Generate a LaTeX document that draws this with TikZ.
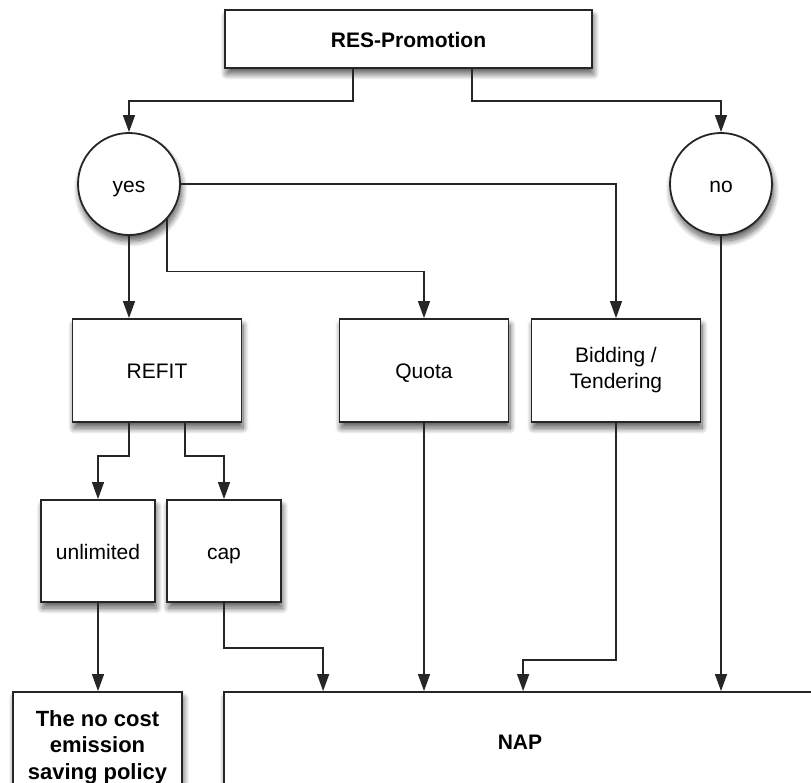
\documentclass[tikz,border=0pt]{standalone}
\usepackage{fontspec}
\setmainfont{Liberation Sans}
\usetikzlibrary{arrows.meta,shadows.blur}
\begin{document}
\begin{tikzpicture}[x=1pt,y=-1pt,
  every node/.style={font=\fontsize{21}{26}\selectfont},
  shd/.style={blur shadow={shadow blur steps=12,shadow xshift=1.5pt,shadow yshift=-6pt,shadow blur radius=6pt,shadow opacity=65}},
  box/.style={draw=black!85,line width=1.8pt,fill=white,shd,inner sep=2pt,align=center},
  one/.style={text height=17pt,text depth=0pt},
  circ/.style={draw=black!85,line width=1.8pt,fill=white,shd,circle,minimum size=102pt,inner sep=0pt,one},
  arr/.style={line width=1.3pt,draw=black!85,-{Triangle[width=12pt,length=17pt]}},
  ln/.style={line width=1.3pt,draw=black!85}]
\useasboundingbox (0,0) rectangle (811,783);
\node[box,one,minimum width=367pt,minimum height=58pt,font=\fontsize{21}{26}\selectfont\bfseries] (res) at (408.5,39) {RES-Promotion};
\node[circ] (yes) at (129,184) {yes};
\node[circ] (no) at (721,184) {no};
\node[box,one,minimum width=169pt,minimum height=103pt] (refit) at (157,370.5) {REFIT};
\node[box,one,minimum width=169pt,minimum height=103pt] (quota) at (424,370.5) {Quota};
\node[box,minimum width=169pt,minimum height=103pt] (bid) at (616,370.5) {Bidding /\\Tendering};
\node[box,one,minimum width=114pt,minimum height=102pt] (unl) at (98,551) {unlimited};
\node[box,one,minimum width=114pt,minimum height=102pt] (cap) at (224,551) {cap};
\node[box,minimum width=169pt,minimum height=110pt,font=\fontsize{22}{26.5}\selectfont\bfseries] (nocost) at (97.5,747) {The no cost\\emission\\saving policy};
\node[box,one,minimum width=592pt,minimum height=98pt,font=\fontsize{21}{26}\selectfont\bfseries] (nap) at (520,741) {NAP};
\draw[arr] ([xshift=-55.5pt]res.south) -- ++(0,32) -| (yes.north);
\draw[arr] ([xshift=63.5pt]res.south) -- ++(0,32) -| (no.north);
\draw[arr] (yes.east) -| (bid.north);
\draw[arr] (yes.south) -- (yes.south |- refit.north);
\draw[arr] (yes.-43.5) -- ++(0,52) -| (quota.north);
\draw[arr] ([xshift=-28pt]refit.south) -- ++(0,33) -| (unl.north);
\draw[arr] ([xshift=28pt]refit.south) -- ++(0,33) -| (cap.north);
\draw[arr] (unl.south) -- (unl.south |- nocost.north);
\draw[arr] (cap.south) -- ++(0,45) -| ([xshift=100pt]nap.north west);
\draw[arr] (quota.south) -- (quota.south |- nap.north);
\draw[arr] (bid.south) -- ++(0,237) -| ([xshift=300pt]nap.north west);
\draw[arr] (no.south) -- (no.south |- nap.north);
\end{tikzpicture}
\end{document}
